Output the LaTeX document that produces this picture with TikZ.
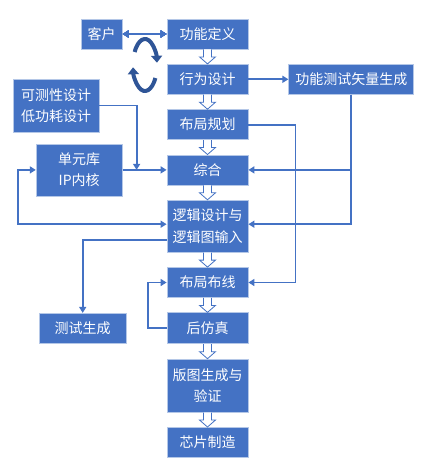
\documentclass[tikz,border=0pt]{standalone}
\usepackage{fontspec}
\newfontfamily\cjk{Noto Sans CJK SC}
\usetikzlibrary{positioning,calc,arrows.meta}
\definecolor{boxblue}{HTML}{4472C4}
\definecolor{boxedge}{HTML}{B4C7E7}
\definecolor{loopblue}{HTML}{2F5597}
\newcommand{\hollowarrow}[2]{%
  \draw[hollow] ($(#1.south)+(-4pt,0)$) -- ($(#2.north)+(-4pt,7pt)$) -- ($(#2.north)+(-8pt,7pt)$)
    -- (#2.north) -- ($(#2.north)+(8pt,7pt)$) -- ($(#2.north)+(4pt,7pt)$) -- ($(#1.south)+(4pt,0)$);}
\begin{document}
\begin{tikzpicture}[node distance=14.5pt,
  box/.style={draw=boxedge, line width=0.8pt, fill=boxblue, text=white, align=center,
    minimum width=81pt, minimum height=30pt, inner sep=2pt,
    font=\cjk\fontsize{14}{21.5}\selectfont},
  link/.style={draw=boxblue, line width=1.8pt, -{Triangle[length=6pt,width=7pt]}},
  hollow/.style={draw=boxblue, line width=0.8pt, fill=white, line join=miter},
  loopline/.style={draw=loopblue, line width=4pt, -{Triangle[length=7pt,width=11pt]}}]
  \useasboundingbox (0,0) rectangle (425pt,-466pt);
  % main column
  \node(func)[box] at (207.5pt,-34pt) {功能定义};
  \node(behav)[box, below=of func] {行为设计};
  \node(floor)[box, below=of behav] {布局规划};
  \node(synth)[box, below=of floor] {综合};
  \node(logic)[box, below=of synth, minimum height=52pt] {逻辑设计与\\逻辑图输入};
  \node(pr)[box, below=of logic] {布局布线};
  \node(postsim)[box, below=of pr, minimum height=31pt] {后仿真};
  \node(layout)[box, below=of postsim, minimum height=53pt] {版图生成与\\验证};
  \node(fab)[box, below=of layout] {芯片制造};
  % side boxes
  \node(kehu)[box, left=44pt of func, minimum width=41pt] {客户};
  \node(vecgen)[box, right=40pt of behav, minimum width=125pt] {功能测试矢量生成};
  \node(dft)[box, minimum width=86pt, minimum height=53pt] at (56pt,-105.5pt) {可测性设计\\低功耗设计};
  \node(lib)[box, left=44pt of synth, minimum width=86pt, minimum height=52pt] {单元库\\IP内核};
  \node(testgen)[box, left=40pt of postsim, minimum width=87pt] {测试生成};
  \coordinate(loop) at (145pt,-65pt);
  \foreach \a/\b in {func/behav, behav/floor, floor/synth, synth/logic, logic/pr, pr/postsim, postsim/layout, layout/fab}
    \hollowarrow{\a}{\b}
  \draw[link, {Triangle[length=6pt,width=7pt]}-{Triangle[length=6pt,width=7pt]}] (kehu) -- (func);
  \draw[loopline] ($(loop)+(150:12pt and 26pt)$) arc[start angle=150, end angle=5, x radius=12pt, y radius=26pt];
  \draw[loopline] ($(loop)+(330:12pt and 26pt)$) arc[start angle=330, end angle=185, x radius=12pt, y radius=26pt];
  \draw[link] (behav) -- (vecgen);
  \draw[link] (dft) -| ([xshift=14pt]lib.east);
  \draw[link] (lib) -- (synth);
  \draw[link] (vecgen) |- (synth);
  \draw[link] (vecgen) |- ([yshift=2pt]logic.east);
  \draw[link] (floor.east) -- ++(47pt,0) |- (pr);
  \draw[link, {Triangle[length=6pt,width=7pt]}-{Triangle[length=6pt,width=7pt]}] (lib.west) -- ++(-18pt,0) |- ([yshift=2pt]logic.west);
  \draw[link] ([yshift=-14pt]logic.west) -| (testgen);
  \draw[link] (postsim.west) -- ++(-19pt,0) |- (pr);
\end{tikzpicture}
\end{document}
